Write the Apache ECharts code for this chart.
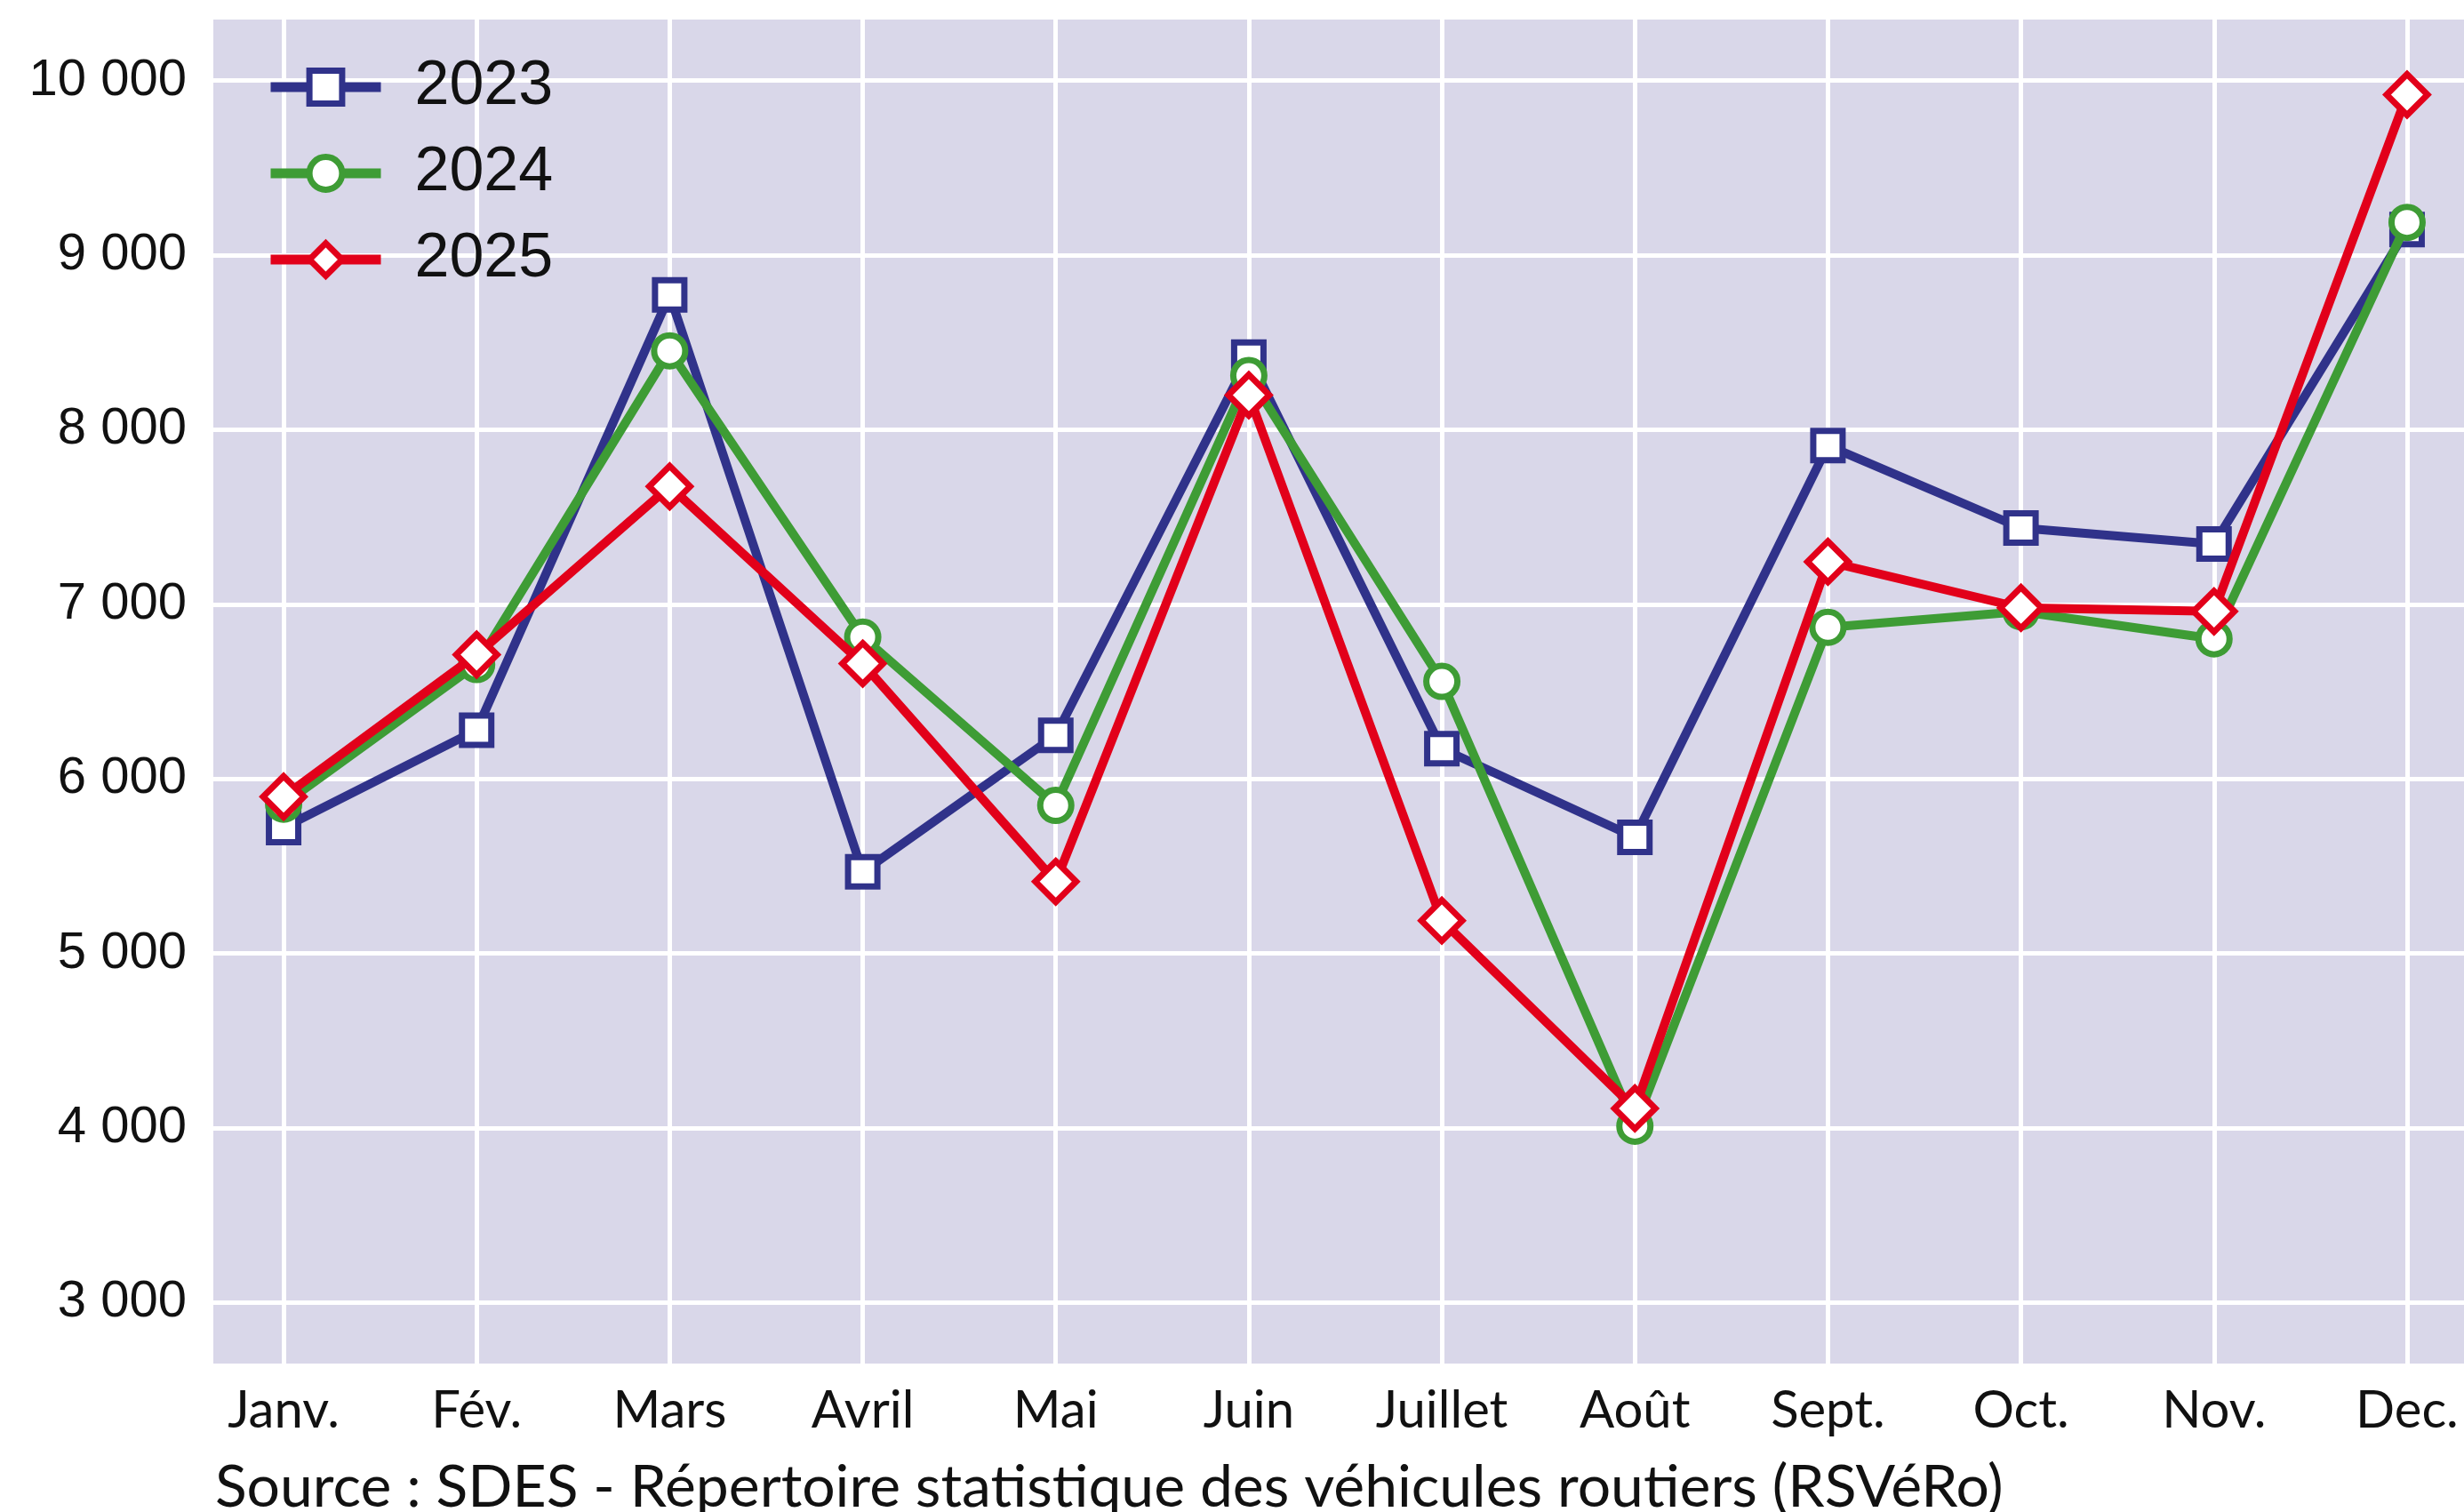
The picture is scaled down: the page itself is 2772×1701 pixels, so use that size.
<!DOCTYPE html>
<html>
<head>
<meta charset="utf-8">
<script src="https://cdn.jsdelivr.net/npm/echarts@6/dist/echarts.min.js"></script>
<style>
html,body{margin:0;padding:0;background:#fff;}
#chart{width:2772px;height:1701px;}
</style>
</head>
<body>
<div id="chart"></div>
<script>
const months = ['Janv.', 'Fév.', 'Mars', 'Avril', 'Mai', 'Juin', 'Juillet', 'Août', 'Sept.', 'Oct.', 'Nov.', 'Dec.'];
const monthIdx = [0, 1, 2, 3, 4, 5, 6, 7, 8, 9, 10, 11];
const seriesNames = ['2023', '2024', '2025'];
const v2023 = [5721, 6279, 8772, 5467, 6249, 8416, 6173, 5665, 7909, 7437, 7345, 9147];
const v2024 = [5855, 6655, 8452, 6812, 5848, 8310, 6558, 4010, 6868, 6958, 6802, 9188];
const v2025 = [5898, 6711, 7675, 6660, 5411, 8198, 5188, 4112, 7244, 6980, 6959, 9920];
const yTicks = [3000, 4000, 5000, 6000, 7000, 8000, 9000, 10000];
const sourceText = 'Source : SDES - Répertoire statistique des véhicules routiers (RSVéRo)';

const colors = ['#30328A', '#3E9C35', '#E2001A'];
const symbols = ['rect', 'circle', 'diamond'];
const symbolSizes = [33, 35, 46];
const allValues = [v2023, v2024, v2025];

function fmt(v) {
  return String(v).replace(/\B(?=(\d{3})+(?!\d))/g, ' ');
}

const chart = echarts.init(document.getElementById('chart'), null, {renderer: 'canvas'});

const series = seriesNames.map((name, s) => ({
  name: name,
  type: 'line',
  data: allValues[s].map((v, i) => [monthIdx[i], v]),
  symbol: symbols[s],
  symbolSize: symbolSizes[s],
  showSymbol: true,
  showAllSymbol: true,
  lineStyle: {color: colors[s], width: 10},
  itemStyle: {color: '#ffffff', borderColor: colors[s], borderWidth: 7},
  emphasis: {disabled: true},
  z: 2 + s
}));

chart.setOption({
  animation: false,
  backgroundColor: '#ffffff',
  grid: {
    left: 240, top: 22, right: 0, bottom: 167,
    show: true, backgroundColor: '#D9D7E9', borderWidth: 0
  },
  legend: {
    data: seriesNames,
    orient: 'vertical',
    left: 294,
    top: 58,
    itemWidth: 124,
    itemHeight: 46,
    itemGap: 27,
    lineStyle: {width: 11},
    itemStyle: {borderWidth: 7},
    textStyle: {
      fontSize: 70,
      fontFamily: 'Liberation Sans',
      color: '#111111',
      padding: [0, 0, 0, 33]
    }
  },
  xAxis: {
    type: 'value',
    min: -0.364,
    max: 11.295,
    axisLine: {show: false},
    axisTick: {show: false, customValues: monthIdx},
    splitLine: {show: true, lineStyle: {color: '#ffffff', width: 5}},
    axisLabel: {
      customValues: monthIdx,
      formatter: (v) => months[Math.round(v)],
      fontSize: 58,
      fontFamily: 'Lato',
      color: '#111111',
      margin: 24
    }
  },
  yAxis: {
    type: 'value',
    min: 2650,
    max: 10350,
    axisLine: {show: false},
    axisTick: {show: false, customValues: yTicks},
    splitLine: {show: true, lineStyle: {color: '#ffffff', width: 5}},
    axisLabel: {
      customValues: yTicks,
      formatter: (v) => fmt(v),
      fontSize: 58,
      fontFamily: 'Liberation Sans',
      color: '#111111',
      margin: 30
    }
  },
  graphic: [{
    type: 'text',
    left: 242,
    top: 1641,
    style: {
      text: sourceText,
      font: '66px Lato',
      fill: '#111111'
    }
  }],
  series: series
});
</script>
</body>
</html>
